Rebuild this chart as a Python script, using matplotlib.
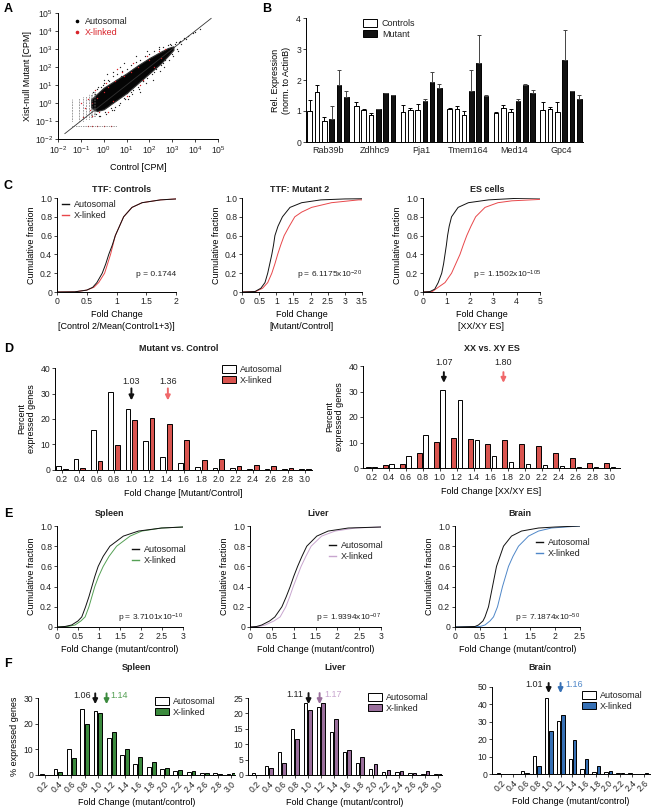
import numpy as np
import matplotlib
matplotlib.use("Agg")
import matplotlib.pyplot as plt
from matplotlib.patches import Patch
from matplotlib.lines import Line2D

plt.rcParams["font.family"] = ["Liberation Sans", "DejaVu Sans"]
plt.rcParams["font.size"] = 6
plt.rcParams["mathtext.fontset"] = "custom"
plt.rcParams["mathtext.rm"] = "Liberation Sans"
plt.rcParams["mathtext.default"] = "regular"
plt.rcParams["axes.linewidth"] = 0.7
plt.rcParams["text.color"] = "#222222"

W, H = 651, 807
TICK_FS, LABEL_FS = 6.2, 6.5

# ---- panel A: scatter (log10 CPM values) ----
core_logx = [-0.55, -0.3, 0.0, 0.5, 1.0, 1.5, 2.0, 2.5, 2.8, 3.05]
core_lo = [-0.25, -0.45, -0.35, 0.1, 0.55, 1.1, 1.65, 2.2, 2.6, 2.95]
core_hi = [0.2, 0.5, 0.85, 1.25, 1.65, 2.1, 2.5, 2.85, 3.05, 3.15]
auto_ctrl_log = [-0.3, -0.2, 0.0, 0.1, 0.2, 0.3, 0.4, 0.5, 0.6, 0.7, 0.8, 0.9, 1.0, 1.1,
                 1.2, 1.3, 1.4, 1.5, 1.6, 1.7, 1.8, 1.9, 2.0, 2.1, 2.2, 2.3, 2.4, 2.5,
                 2.6, 2.7, 2.9, 3.0, 3.1, 3.2, 3.3, 3.4, 3.5, 0.3, 0.8, 1.3, 1.8, -0.4,
                 -0.1, 0.45, 1.05, 0.15, 0.7, 1.6, 3.7, 3.9,
                 -0.45, -0.35, -0.25, -0.15, -0.05, 0.05, 0.25, 0.35, 0.55, 0.65, 0.75,
                 0.95, 1.15, 1.25, 1.45, 1.55, 1.75, 1.85, 2.05, 2.15, 2.35, 2.45, 2.55,
                 2.65, 2.8, 2.85, 2.95, 3.05, 3.15, 3.25, 0.0, 0.4, 0.9, 1.4, 1.9, 2.4,
                 -0.2, 0.2, 0.6, 1.0, 1.2, 1.7, 2.2, 2.6, 3.35, 3.6, 4.0, 4.2]
auto_mut_log = [0.8, -0.7, 1.1, -0.6, 1.3, -0.3, 1.5, -0.2, 1.6, 0.0, 1.8, 0.3, 1.9, 0.4,
                2.1, 0.7, 2.3, 0.9, 2.4, 1.2, 2.6, 1.4, 2.7, 1.6, 2.9, 1.9, 3.0, 2.1,
                3.1, 2.4, 3.3, 2.7, 3.3, 3.0, 3.4, 3.3, 3.6, 1.0, 1.4, 1.9, 2.3, 0.5,
                0.9, -0.4, 0.2, 1.6, 2.0, 0.6, 3.7, 3.9,
                0.6, -0.6, 0.9, -0.7, 1.0, -0.5, 1.2, -0.4, 1.3, -0.1, 1.5,
                0.2, 1.8, 0.5, 2.0, 0.8, 2.2, 1.1, 2.5, 1.3, 2.7, 1.8, 2.9,
                2.0, 3.2, 2.4, 3.2, 2.6, 3.4, 2.9, 1.3, 1.7, 2.2, 2.6, 2.9, 3.1,
                -0.3, -0.15, 0.25, 0.55, 0.6, 1.2, 1.7, 2.2, 3.45, 3.55, 3.95, 4.1]
xl_ctrl_log = [0.6, 1.3, 1.9, 2.4, 0.2, 0.5, 0.9, 1.5, 2.0, 2.7, 1.0, 1.6, 0.4, -0.3,
               -0.5, -0.6, -0.8, -1.0, -0.7, -0.5, -0.9, 0.2, 1.2, 2.2, 0.0,
               -0.7, -0.5, -0.3, 0.0, 0.3, 0.8, 1.7, 2.5, -0.4, -0.2, 0.1]
xl_mut_log = [1.9, 2.2, 2.6, 2.9, 0.9, 1.2, 1.5, 2.0, 2.4, 3.0, 0.4, 1.0, 0.1, 0.3,
              0.0, -0.4, -0.3, 0.0, 0.2, -0.7, -0.8, -0.5, 1.7, 2.0, 0.6,
              -1.3, -1.3, -1.3, -1.3, -1.3, 1.7, 1.3, 2.5, 0.7, -0.5, 1.1]
col_logx = [-1.4, -1.1, -0.9, -0.77, -0.66, -0.57, -0.5, -0.44, -0.38]
col_lo = [-1.0, -1.0, -1.0, -0.9, -0.9, -0.8, -0.8, -0.7, -0.7]
col_hi = [0.2, 0.3, 0.35, 0.4, 0.5, 0.5, 0.55, 0.6, 0.6]
row_log = [-1.3, -1.4, 0.6]        # y, x start, x end
diag_log = [-1.7, 4.7]

# ---- panel B: qPCR ----
genes = ["Rab39b", "Zdhhc9", "Pja1", "Tmem164", "Med14", "Gpc4"]
ctrl_vals = [[1.0, 1.6, 0.67], [1.17, 1.02, 0.87], [0.96, 1.04, 1.04],
             [1.08, 1.06, 0.88], [0.95, 1.1, 0.98], [1.02, 1.07, 0.98]]
ctrl_sd = [[0.37, 0.23, 0.13], [0.13, 0.03, 0.05], [0.22, 0.06, 0.18],
           [0.02, 0.11, 0.12], [0.01, 0.1, 0.07], [0.28, 0.05, 0.32]]
mut_vals = [[0.73, 1.83, 1.45], [1.07, 1.57, 1.53], [1.32, 1.92, 1.74],
            [1.63, 2.55, 1.50], [1.33, 1.85, 1.57], [2.63, 1.63, 1.40]]
mut_sd = [[0.42, 0.49, 0.2], [0.01, 0.01, 0.0], [0.06, 0.33, 0.13],
          [0.7, 0.9, 0.01], [0.07, 0.01, 0.11], [0.99, 0.0, 0.12]]

# ---- panel C: cumulative distributions ----
c1_auto_x = [0, 0.3, 0.5, 0.6, 0.67, 0.76, 0.82, 0.87, 0.93, 0.98, 1.05, 1.12, 1.26, 1.43, 1.74, 2.0]
c1_auto_y = [0, 0.002, 0.02, 0.05, 0.1, 0.2, 0.3, 0.4, 0.5, 0.6, 0.7, 0.8, 0.9, 0.95, 0.98, 0.99]
c1_xl_x = [0, 0.3, 0.5, 0.62, 0.7, 0.8, 0.85, 0.9, 0.94, 0.98, 1.05, 1.12, 1.26, 1.43, 1.74, 2.0]
c1_xl_y = [0, 0.002, 0.02, 0.05, 0.1, 0.2, 0.3, 0.4, 0.5, 0.6, 0.7, 0.8, 0.9, 0.95, 0.98, 0.99]
c2_auto_x = [0, 0.38, 0.55, 0.67, 0.75, 0.81, 0.87, 0.92, 0.96, 1.05, 1.18, 1.4, 1.74, 2.3, 3.0, 3.5]
c2_auto_y = [0, 0.005, 0.04, 0.1, 0.2, 0.3, 0.4, 0.5, 0.6, 0.7, 0.8, 0.9, 0.95, 0.98, 0.99, 0.992]
c2_xl_x = [0, 0.4, 0.6, 0.75, 0.87, 0.96, 1.04, 1.13, 1.23, 1.38, 1.54, 1.74, 2.03, 2.61, 3.4, 3.5]
c2_xl_y = [0, 0.005, 0.04, 0.1, 0.2, 0.3, 0.4, 0.5, 0.6, 0.7, 0.8, 0.85, 0.9, 0.95, 0.98, 0.98]
c3_auto_x = [0, 0.3, 0.5, 0.65, 0.8, 0.88, 0.94, 1.0, 1.05, 1.12, 1.22, 1.5, 1.94, 2.8, 3.9, 5]
c3_auto_y = [0, 0.005, 0.03, 0.1, 0.2, 0.3, 0.4, 0.5, 0.6, 0.7, 0.8, 0.9, 0.95, 0.98, 0.995, 1.0]
c3_xl_x = [0, 0.4, 0.65, 0.94, 1.22, 1.4, 1.58, 1.72, 1.87, 2.05, 2.25, 2.65, 3.2, 3.8, 5]
c3_xl_y = [0, 0.005, 0.05, 0.1, 0.2, 0.3, 0.4, 0.5, 0.6, 0.7, 0.8, 0.9, 0.95, 0.97, 0.985]

# ---- panel D: histograms ----
fold_bins = [0.2, 0.4, 0.6, 0.8, 1.0, 1.2, 1.4, 1.6, 1.8, 2.0, 2.2, 2.4, 2.6, 2.8, 3.0]
d1_auto = [1.5, 4.3, 15.5, 30.5, 24, 11.5, 5, 2.7, 1.3, 0.8, 0.6, 0.4, 0.3, 0.3, 0.2]
d1_xl = [0.2, 0.6, 3.5, 9.8, 19.5, 20.5, 18, 11.7, 4, 4.4, 1.4, 1.8, 1.4, 0.6, 0.4]
d2_auto = [0.3, 1.7, 4.7, 13, 30.7, 26.7, 10.9, 4.8, 2.2, 1.5, 1.0, 0.8, 0.4, 0.3, 0.2]
d2_xl = [0.3, 1.0, 1.5, 5.8, 10.3, 11.8, 11.2, 9.3, 10.8, 9.3, 8.5, 6.0, 4.1, 2.0, 1.9]

# ---- panel E: tissue cumulative distributions ----
e_frac = [0, 0.005, 0.02, 0.06, 0.1, 0.2, 0.3, 0.4, 0.5, 0.6, 0.7, 0.8, 0.9, 0.95, 0.98, 0.99]
e3_frac = [0, 0.005, 0.02, 0.06, 0.1, 0.2, 0.3, 0.4, 0.5, 0.6, 0.7, 0.8, 0.9, 0.95, 0.98, 0.99, 1.0]
e1_auto_x = [0, 0.19, 0.35, 0.5, 0.59, 0.68, 0.76, 0.83, 0.9, 0.98, 1.1, 1.26, 1.58, 1.94, 2.49, 3.0]
e1_xl_x = [0, 0.25, 0.43, 0.57, 0.67, 0.76, 0.83, 0.9, 0.99, 1.1, 1.24, 1.42, 1.74, 2.02, 2.49, 3.0]
e2_auto_x = [0, 0.15, 0.27, 0.45, 0.57, 0.73, 0.83, 0.92, 1.0, 1.09, 1.19, 1.3, 1.53, 1.79, 2.25, 3.0]
e2_xl_x = [0, 0.2, 0.35, 0.55, 0.69, 0.82, 0.91, 0.99, 1.08, 1.17, 1.28, 1.4, 1.64, 1.95, 2.41, 3.0]
e3_auto_x = [0, 0.4, 0.47, 0.56, 0.6, 0.67, 0.71, 0.75, 0.79, 0.83, 0.9, 0.97, 1.13, 1.33, 1.67, 2.0, 2.5]
e3_xl_x = [0, 0.5, 0.6, 0.7, 0.77, 0.85, 0.9, 0.95, 1.01, 1.07, 1.16, 1.27, 1.47, 1.67, 1.93, 2.2, 2.5]

# ---- panel F: tissue histograms ----
f1_auto = [0.2, 2.2, 10.2, 25.7, 25, 14.3, 7.6, 4.4, 3.0, 2.2, 1.5, 1.2, 0.9, 0.6, 0.4]
f1_xl = [0.1, 1.0, 6.5, 20, 24, 16.7, 10.3, 7.0, 5.2, 2.8, 2.0, 1.5, 0.8, 0.4, 0.6]
f2_auto = [0.5, 2.9, 7.4, 14.9, 23.4, 22.1, 14.1, 7.6, 3.8, 2.1, 1.0, 1.0, 0.6, 0.4, 0.3]
f2_xl = [0.0, 2.2, 4.0, 11.7, 21, 23.4, 18.3, 8.2, 5.7, 3.7, 1.5, 1.2, 0.5, 1.2, 0.3]
brain_bins = [0.2, 0.4, 0.6, 0.8, 1.0, 1.2, 1.4, 1.6, 1.8, 2.0, 2.2, 2.4, 2.6]
f3_auto = [0.3, 0.0, 1.5, 10.3, 43.9, 30.4, 8.6, 2.9, 1.3, 0.9, 0.3, 0.3, 0.2]
f3_xl = [0.0, 0.0, 0.3, 4.8, 24.9, 33.8, 19.6, 8.9, 4.4, 1.5, 0.5, 0.1, 0.5]

RED_LINE, RED_BAR = "#e8474a", "#d9544f"
GREEN_LINE, GREEN_BAR = "#55a055", "#3b8a3d"
PURPLE_LINE, PURPLE_BAR = "#c8a6cf", "#9a6f9c"
BLUE_LINE, BLUE_BAR = "#4f87c8", "#3670b5"
ARROW_RED = "#f0686a"

fig = plt.figure(figsize=(W / 100, H / 100), dpi=100)


def add_ax(l, t, r, b):
    ax = fig.add_axes([l / W, 1 - b / H, (r - l) / W, (b - t) / H])
    for s in ("top", "right"):
        ax.spines[s].set_visible(False)
    ax.tick_params(length=2, width=0.6, pad=1.5, labelsize=TICK_FS, colors="#222222")
    return ax


def ftext(x, y, s, **kw):
    fig.text(x / W, 1 - y / H, s, **kw)


def fig_legend(ax, handles, labels, x, y, **kw):
    return ax.legend(handles, labels, loc="upper left", bbox_to_anchor=(x / W, 1 - y / H),
                     bbox_transform=fig.transFigure, frameon=False, fontsize=LABEL_FS,
                     borderpad=0, borderaxespad=0, labelspacing=0.2,
                     handletextpad=0.5, **kw)


# panel letters
for letter, x, y in [("A", 4, 9), ("B", 262, 9), ("C", 4, 186), ("D", 4, 349),
                     ("E", 4, 514), ("F", 4, 664)]:
    ftext(x, y, letter, fontsize=9, fontweight="bold", va="center", color="black")

# ================= A =================
ax = add_ax(58, 13, 218, 139)
ax.set_xscale("log")
ax.set_yscale("log")
ax.plot(10.0 ** np.array(diag_log), 10.0 ** np.array(diag_log), color="#333333", lw=0.6)
ax.vlines(10.0 ** np.array(col_logx), 10.0 ** np.array(col_lo), 10.0 ** np.array(col_hi),
          colors="#555555", lw=0.7, linestyles=(0, (0.6, 1.0)))
ax.hlines(10.0 ** row_log[0], 10.0 ** row_log[1], 10.0 ** row_log[2], colors="#555555",
          lw=0.7, linestyles=(0, (0.6, 1.2)))
ax.scatter(10.0 ** np.array(auto_ctrl_log), 10.0 ** np.array(auto_mut_log), s=0.9,
           color="#222222", lw=0)
ax.fill_between(10.0 ** np.array(core_logx), 10.0 ** np.array(core_lo),
                10.0 ** np.array(core_hi), color="#050505", lw=0.8, edgecolor="#333333")
ax.scatter(10.0 ** np.array(xl_ctrl_log), 10.0 ** np.array(xl_mut_log), s=1.0,
           color="#d8232a", lw=0)
ax.set_xlim(1e-2, 1e5)
ax.set_ylim(1e-2, 1e5)
ax.set_xticks(10.0 ** np.arange(-2, 6))
ax.set_yticks(10.0 ** np.arange(-2, 6))
ax.minorticks_off()
ax.set_xlabel("Control [CPM]", fontsize=LABEL_FS, labelpad=5)
ax.set_ylabel("Xist-null Mutant [CPM]", fontsize=LABEL_FS, labelpad=2)
h = [Line2D([], [], ls="", marker="o", ms=1.6, color="black"),
     Line2D([], [], ls="", marker="o", ms=1.6, color="#d8232a")]
leg = fig_legend(ax, h, ["Autosomal", "X-linked"], 73, 17, handlelength=0.8)
leg.get_texts()[1].set_color("#d8232a")

# ================= B =================
ax = add_ax(306, 18, 583, 142)
bar_step, bar_w = 0.157, 0.1
for g in range(len(genes)):
    for j in range(3):
        xc = g + (j - 2.5) * bar_step
        ax.bar(xc, ctrl_vals[g][j], width=bar_w, color="white", edgecolor="black", lw=0.7)
        ax.errorbar(xc, ctrl_vals[g][j], yerr=[[0], [ctrl_sd[g][j]]], color="black",
                    lw=0.7, capsize=1.3, capthick=0.7)
        xm = g + (j + 0.5) * bar_step
        ax.bar(xm, mut_vals[g][j], width=bar_w, color="#111111", edgecolor="black", lw=0.7)
        ax.errorbar(xm, mut_vals[g][j], yerr=[[0], [mut_sd[g][j]]], color="#444444",
                    lw=0.7, capsize=1.3, capthick=0.7)
ax.set_xlim(-0.47, 5.47)
ax.set_ylim(0, 4)
ax.set_yticks([0, 1, 2, 3, 4])
ax.set_xticks(range(len(genes)))
ax.set_xticklabels(genes, fontsize=LABEL_FS)
ax.tick_params(axis="x", length=0, pad=3)
ax.set_ylabel("Rel. Expression\n(norm. to ActinB)", fontsize=LABEL_FS, labelpad=4)
h = [Patch(facecolor="white", edgecolor="black", lw=0.7),
     Patch(facecolor="#111111", edgecolor="black", lw=0.7)]
fig_legend(ax, h, ["Controls", "Mutant"], 363, 19, handlelength=1.6, handleheight=0.9)


# ================= C and E =================
def cdf_panel(rect, title, title_xy, auto_xy, xl_xy, color, xlim, xticks, xticklabels,
              xlabel, ptext, pxy, leg_xy=None):
    ax = add_ax(*rect)
    ax.plot(xl_xy[0], xl_xy[1], color=color, lw=0.7)
    ax.plot(auto_xy[0], auto_xy[1], color="#111111", lw=0.7)
    ax.set_xlim(*xlim)
    ax.set_ylim(0, 1.0)
    ax.set_xticks(xticks)
    ax.set_xticklabels(xticklabels)
    ax.set_yticks([0, 0.2, 0.4, 0.6, 0.8, 1.0])
    ax.set_yticklabels(["0", "0.2", "0.4", "0.6", "0.8", "1.0"])
    ax.set_ylabel("Cumulative fraction", fontsize=LABEL_FS, labelpad=3)
    ax.set_xlabel(xlabel, fontsize=LABEL_FS, labelpad=3, linespacing=1.4)
    ftext(title_xy[0], title_xy[1], title, fontsize=LABEL_FS, fontweight="bold",
          ha="center", va="center")
    ftext(pxy[0], pxy[1], ptext, fontsize=6, ha="right", va="center")
    if leg_xy is not None:
        h = [Line2D([], [], color="#111111", lw=1.0), Line2D([], [], color=color, lw=1.0)]
        fig_legend(ax, h, ["Autosomal", "X-linked"], leg_xy[0], leg_xy[1],
                   handlelength=0.8)
    return ax


cdf_panel((57, 198, 176, 292), "TTF: Controls", (122, 190), (c1_auto_x, c1_auto_y),
          (c1_xl_x, c1_xl_y), RED_LINE, (0, 2), [0, 0.5, 1, 1.5, 2],
          ["0", "0.5", "1", "1.5", "2"], "Fold Change\n[Control 2/Mean(Control1+3)]",
          "p = 0.1744", (176, 275), leg_xy=(62, 200))
cdf_panel((242, 198, 362, 292), "TTF: Mutant 2", (300, 190), (c2_auto_x, c2_auto_y),
          (c2_xl_x, c2_xl_y), RED_LINE, (0, 3.5), [0, 0.5, 1, 1.5, 2, 2.5, 3, 3.5],
          ["0", "0.5", "1", "1.5", "2", "2.5", "3", "3.5"], "Fold Change\n[Mutant/Control]",
          "p = 6.1175x10$^{-20}$", (362, 275))
cdf_panel((423, 198, 540, 292), "ES cells", (487, 190), (c3_auto_x, c3_auto_y),
          (c3_xl_x, c3_xl_y), RED_LINE, (0, 5), [0, 1, 2, 3, 4, 5],
          ["0", "1", "2", "3", "4", "5"], "Fold Change\n[XX/XY ES]",
          "p = 1.1502x10$^{-105}$", (541, 275))

cdf_panel((57, 526, 183, 627), "Spleen", (110, 513), (e1_auto_x, e_frac),
          (e1_xl_x, e_frac), GREEN_LINE, (0, 3), [0, 0.5, 1, 1.5, 2, 2.5, 3],
          ["0", "0.5", "1", "1.5", "2", "2.5", "3"], "Fold Change (mutant/control)",
          "p = 3.7101x10$^{-10}$", (183, 618), leg_xy=(132, 545))
cdf_panel((250, 526, 381, 627), "Liver", (318, 513), (e2_auto_x, e_frac),
          (e2_xl_x, e_frac), PURPLE_LINE, (0, 3), [0, 0.5, 1, 1.5, 2, 2.5, 3],
          ["0", "0.5", "1", "1.5", "2", "2.5", "3"], "Fold Change (mutant/control)",
          "p = 1.9394x10$^{-07}$", (381, 618), leg_xy=(329, 541))
cdf_panel((455, 526, 580, 627), "Brain", (520, 513), (e3_auto_x, e3_frac),
          (e3_xl_x, e3_frac), BLUE_LINE, (0, 2.5), [0, 0.5, 1, 1.5, 2, 2.5],
          ["0", "0.5", "1", "1.5", "2", "2.5"], "Fold Change (mutant/control)",
          "p = 7.1874x10$^{-50}$", (580, 618), leg_xy=(536, 538))


# ================= D and F =================
def hist_panel(rect, bins, first, second, first_color, second_color, xlim, ylim, yticks,
               width, offset, xlabel, ylabel=None, rotate=False):
    ax = add_ax(*rect)
    x = np.array(bins)
    ax.bar(x - offset, first, width=width, color=first_color, edgecolor="black", lw=0.7)
    ax.bar(x + offset, second, width=width, color=second_color, edgecolor="black", lw=0.7)
    ax.set_xlim(*xlim)
    ax.set_ylim(*ylim)
    ax.set_yticks(yticks)
    ax.set_xticks(bins)
    ax.set_xticklabels([f"{b:.1f}" for b in bins])
    if rotate:
        ax.tick_params(axis="x", labelrotation=45, pad=1)
        for t in ax.get_xticklabels():
            t.set_ha("right")
            t.set_rotation_mode("anchor")
    ax.set_xlabel(xlabel, fontsize=LABEL_FS, labelpad=4 if not rotate else 3)
    if ylabel:
        ax.set_ylabel(ylabel, fontsize=LABEL_FS, labelpad=3, linespacing=1.2)
    return ax


def down_arrow(ax, x, top, tip, color, label=None, lx=None, ly=None, ha="center",
               lcolor="#222222"):
    ax.annotate("", xy=(x, tip), xytext=(x, top), annotation_clip=False,
                arrowprops=dict(arrowstyle="-|>", color=color, lw=1.4,
                                mutation_scale=7, shrinkA=0, shrinkB=0))
    if label:
        ax.text(lx, ly, label, ha=ha, va="center", fontsize=LABEL_FS, color=lcolor,
                clip_on=False)


def bar_legend(ax, color, x, y):
    h = [Patch(facecolor="white", edgecolor="black", lw=0.7),
         Patch(facecolor=color, edgecolor="black", lw=0.7)]
    fig_legend(ax, h, ["Autosomal", "X-linked"], x, y, handlelength=1.5, handleheight=0.9)


ax = hist_panel((55, 368, 312, 470), fold_bins, d1_auto, d1_xl, "white", RED_BAR,
                (0.12, 3.08), (0, 40), [0, 10, 20, 30, 40], 0.055, 0.038,
                "Fold Change [Mutant/Control]", "Percent\nexpressed genes")
down_arrow(ax, 1.0, 32, 27.3, "#111111", "1.03", 1.0, 34.8)
down_arrow(ax, 1.42, 32, 27.3, ARROW_RED, "1.36", 1.42, 34.8)
ftext(179, 348, "Mutant vs. Control", fontsize=LABEL_FS, fontweight="bold", ha="center",
      va="center")
bar_legend(ax, RED_BAR, 222, 365)

ax = hist_panel((363, 366, 620, 468), fold_bins, d2_xl, d2_auto, RED_BAR, "white",
                (0.1, 3.12), (0, 40), [0, 10, 20, 30, 40], 0.055, 0.038,
                "Fold Change [XX/XY ES]", "Percent\nexpressed genes")
down_arrow(ax, 1.05, 37.6, 33.4, "#111111", "1.07", 1.05, 41.2)
down_arrow(ax, 1.75, 37.6, 33.4, ARROW_RED, "1.80", 1.75, 41.2)
ftext(492, 348, "XX vs. XY ES", fontsize=LABEL_FS, fontweight="bold", ha="center",
      va="center")

# F
ax = hist_panel((38, 698, 235, 775), fold_bins, f1_auto, f1_xl, "white", GREEN_BAR,
                (0.1, 3.06), (0, 30), [0, 10, 20, 30], 0.058, 0.037,
                "Fold Change (mutant/control)", "% expressed genes", rotate=True)
down_arrow(ax, 0.96, 31.8, 27.6, "#111111", "1.06", 0.89, 31.0, ha="right")
down_arrow(ax, 1.13, 31.8, 27.6, GREEN_BAR, "1.14", 1.19, 31.0, ha="left",
           lcolor=GREEN_LINE)
ftext(137, 668, "Spleen", fontsize=LABEL_FS, fontweight="bold", ha="center", va="center")
bar_legend(ax, GREEN_BAR, 155, 697)

ax = hist_panel((248, 698, 442, 775), fold_bins, f2_auto, f2_xl, "white", PURPLE_BAR,
                (0.08, 3.06), (0, 25), [0, 5, 10, 15, 20, 25], 0.058, 0.037,
                "Fold Change (mutant/control)", rotate=True)
down_arrow(ax, 1.01, 26.6, 23.0, "#111111", "1.11", 0.93, 26.0, ha="right")
down_arrow(ax, 1.18, 26.6, 23.0, PURPLE_BAR, "1.17", 1.25, 26.0, ha="left",
           lcolor=PURPLE_LINE)
ftext(335, 668, "Liver", fontsize=LABEL_FS, fontweight="bold", ha="center", va="center")
bar_legend(ax, PURPLE_BAR, 368, 693)

ax = hist_panel((492, 687, 650, 774), brain_bins, f3_auto, f3_xl, "white", BLUE_BAR,
                (0.05, 2.7), (0, 50), [0, 10, 20, 30, 40, 50], 0.058, 0.037,
                "Fold Change (mutant/control)", rotate=True)
down_arrow(ax, 1.0, 52.3, 46.5, "#111111", "1.01", 0.9, 51.5, ha="right")
down_arrow(ax, 1.2, 52.3, 46.5, BLUE_BAR, "1.16", 1.28, 51.5, ha="left",
           lcolor=BLUE_LINE)
ftext(540, 668, "Brain", fontsize=LABEL_FS, fontweight="bold", ha="center", va="center")
bar_legend(ax, BLUE_BAR, 582, 691)

fig.savefig("out.png", dpi=100)
